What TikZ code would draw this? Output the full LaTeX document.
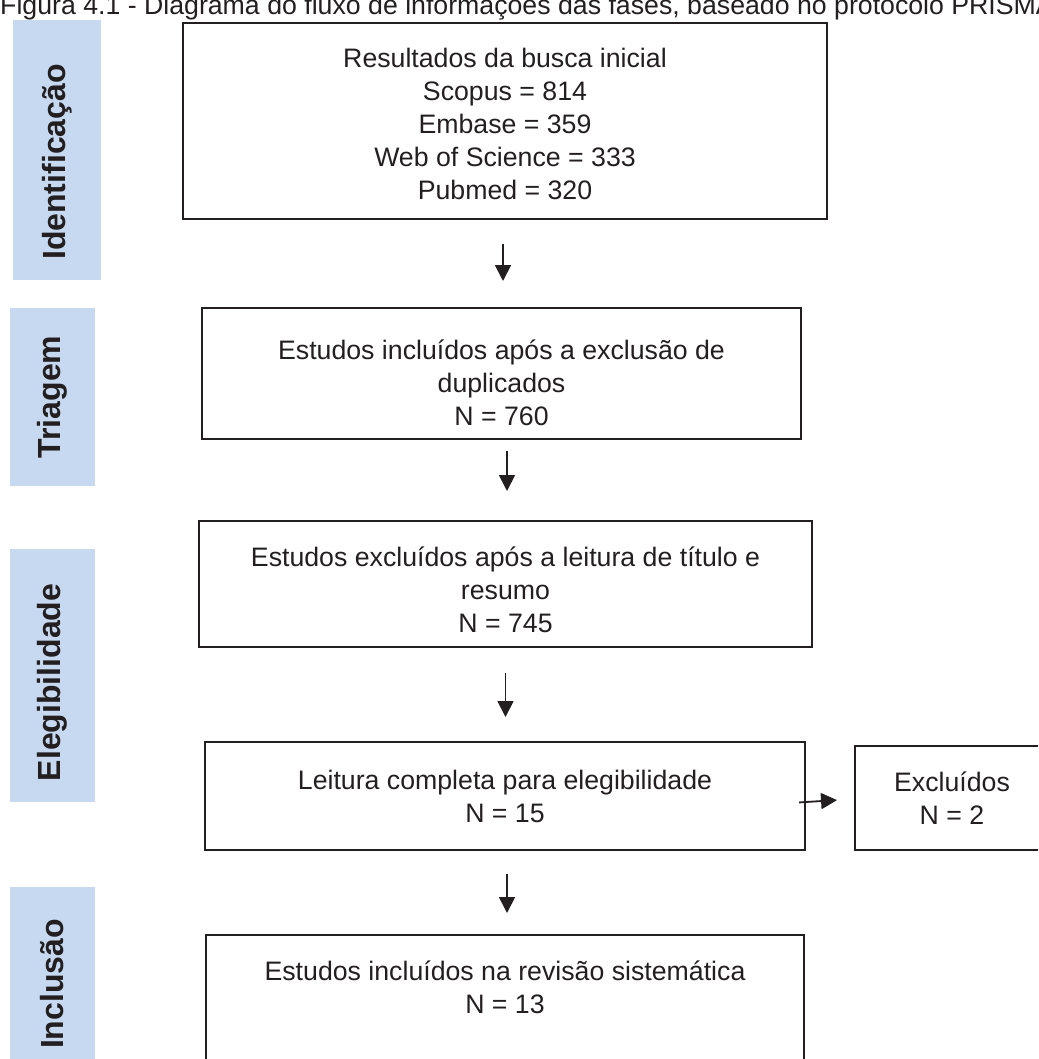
\documentclass[tikz,border=0pt]{standalone}
\usepackage{fontspec}
\setmainfont{Liberation Sans}
\usepackage{xcolor}
\usepackage{tikz}
\usetikzlibrary{calc}
\usetikzlibrary{arrows.meta}
\definecolor{fasebg}{HTML}{C6D9F0}
\definecolor{tinta}{HTML}{231F20}
\tikzstyle{every node}=[font=\fontsize{26.7}{33}\selectfont, text=tinta]
\tikzset{
  caixa/.style={draw=tinta, line width=2pt, inner sep=0pt},
  texto/.style={align=center, inner sep=0pt},
  fase/.style={fill=fasebg, rotate=90, inner sep=0pt, font=\fontsize{32}{38}\selectfont\bfseries},
  seta/.style={draw=tinta, line width=1.8pt, -{Triangle[length=16pt,width=16pt]}}
}

\begin{document}
\begin{tikzpicture}[x=1pt, y=-1pt]
                \useasboundingbox (0,0) rectangle (1038,1059);
                \clip (0,0) rectangle (1038,1059);
                % legenda (cortada no topo)
                \node [anchor=base west, inner sep=0pt] (legenda) at (0,14.5) {Figura 4.1 - Diagrama do fluxo de informações das fases, baseado no protocolo PRISMA};
                % fases
                \node [fase, minimum width=260, minimum height=88] (ident) at (57,150) {Identificação\hspace*{24pt}};
                \node [fase, minimum width=178, minimum height=85] (triag) at (52.5,397) {Triagem};
                \node [fase, minimum width=253, minimum height=85] (eleg) at (52.5,675.5) {Elegibilidade\hspace*{14pt}};
                \node [fase, minimum width=183, minimum height=85] (incl) at (52.5,978.5) {Inclusão\hspace*{11pt}};
                % caixas
                \node [caixa, minimum width=644, minimum height=196] (busca) at (505,121) {};
                \node [caixa, minimum width=599, minimum height=131] (duplic) at (501.5,373.5) {};
                \node [caixa, minimum width=613, minimum height=126] (resumo) at (505.5,584) {};
                \node [caixa, minimum width=600, minimum height=108] (leitura) at (505,796) {};
                \node [caixa, minimum width=194, minimum height=104] (excl) at (952,798) {};
                \node [caixa, minimum width=598, minimum height=170] (revisao) at (505,1020) {};
                % textos das caixas
                \node [texto] (busca-t) at ([yshift=-3pt]busca.center) {Resultados da busca inicial\\Scopus = 814\\Embase = 359\\Web of Science = 333\\Pubmed = 320};
                \node [texto] (duplic-t) at ([yshift=-9pt]duplic.center) {Estudos incluídos após a exclusão de\\duplicados\\N = 760};
                \node [texto] (resumo-t) at ([yshift=-6pt]resumo.center) {Estudos excluídos após a leitura de título e\\resumo\\N = 745};
                \node [texto] (leitura-t) at (leitura.center) {Leitura completa para elegibilidade\\N = 15};
                \node [texto] (excl-t) at (excl.center) {Excluídos\\N = 2};
                \node [texto] (revisao-t) at (505,987) {Estudos incluídos na revisão sistemática\\N = 13};
                % setas
                \draw [seta, shorten <=24pt, shorten >=26pt] ([xshift=-2pt]busca.south) -- ([xshift=-2pt]busca.south |- duplic.north);
                \draw [seta, shorten <=11pt, shorten >=29pt] ([xshift=5.5pt]duplic.south) -- ([xshift=5.5pt]duplic.south |- resumo.north);
                \draw [seta, shorten <=25pt, shorten >=24pt] (resumo.south) -- (resumo.south |- leitura.north);
                \draw [seta, shorten <=23pt, shorten >=21pt] ([xshift=2pt]leitura.south) -- ([xshift=2pt]leitura.south |- revisao.north);
                \draw [seta, shorten <=-7pt, shorten >=17pt] ([yshift=-6pt]leitura.east) -- ([yshift=-1pt]excl.west);
\end{tikzpicture}
\end{document}
